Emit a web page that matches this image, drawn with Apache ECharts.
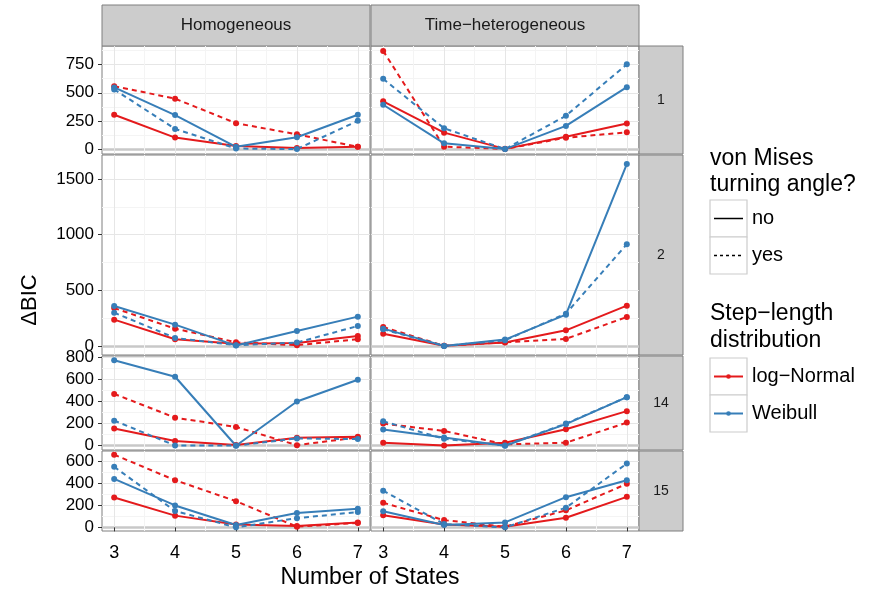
<!DOCTYPE html>
<html><head><meta charset="utf-8">
<script src="https://cdn.jsdelivr.net/npm/echarts@6/dist/echarts.min.js"></script>
<style>html,body{margin:0;padding:0;background:#fff}#c{width:875px;height:592px}</style>
</head><body><div id="c"></div>
<script>
// ---------- data ----------
const states = [3, 4, 5, 6, 7];
const colNames = ['Homogeneous', 'Time\u2212heterogeneous'];
const rowNames = ['1', '2', '14', '15'];
const xTicks = [3, 4, 5, 6, 7];
const xMinor = [3.5, 4.5, 5.5, 6.5];
const yTicksR1 = [0, 250, 500, 750];
const yMinorR1 = [125, 375, 625, 875];
const yTicksR2 = [0, 500, 1000, 1500];
const yMinorR2 = [250, 750, 1250];
const yTicksR3 = [0, 200, 400, 600, 800];
const yMinorR3 = [100, 300, 500, 700];
const yTicksR4 = [0, 200, 400, 600];
const yMinorR4 = [100, 300, 500];

// row "1"
const hom1_lnNo  = [305, 102, 27, 10, 21];
const hom1_lnYes = [559, 448, 230, 131, 20];
const hom1_wbNo  = [548, 302, 20, 105, 305];
const hom1_wbYes = [530, 179, 5, 0, 251];
const het1_lnNo  = [424, 146, 2, 110, 227];
const het1_lnYes = [872, 21, 1, 101, 149];
const het1_wbNo  = [394, 51, 0, 206, 550];
const het1_wbYes = [624, 185, 0, 296, 753];
// row "2"
const hom2_lnNo  = [236, 60, 20, 27, 90];
const hom2_lnYes = [340, 155, 33, 6, 60];
const hom2_wbNo  = [358, 191, 3, 134, 263];
const hom2_wbYes = [299, 72, 6, 30, 179];
const het2_lnNo  = [110, 2, 30, 140, 362];
const het2_lnYes = [170, 1, 33, 63, 260];
const het2_wbNo  = [155, 0, 57, 281, 1634];
const het2_wbYes = [149, 0, 50, 290, 914];
// row "14"
const hom14_lnNo  = [155, 42, 6, 72, 82];
const hom14_lnYes = [469, 254, 170, 5, 75];
const hom14_wbNo  = [773, 624, 0, 400, 597];
const hom14_wbYes = [227, 3, 1, 66, 60];
const het14_lnNo  = [27, 3, 27, 149, 313];
const het14_lnYes = [200, 134, 12, 27, 209];
const het14_wbNo  = [146, 75, 0, 195, 439];
const het14_wbYes = [221, 63, 2, 200, 439];
// row "15"
const hom15_lnNo  = [272, 107, 27, 12, 45];
const hom15_lnYes = [663, 430, 239, 6, 40];
const hom15_wbNo  = [442, 200, 21, 131, 170];
const hom15_wbYes = [552, 149, 0, 84, 140];
const het15_lnNo  = [110, 27, 6, 87, 278];
const het15_lnYes = [224, 66, 6, 155, 397];
const het15_wbNo  = [146, 21, 45, 275, 430];
const het15_wbYes = [334, 30, 0, 179, 582];

// ---------- assembly ----------
const panels = [
  [[hom1_lnNo, hom1_lnYes, hom1_wbNo, hom1_wbYes], [het1_lnNo, het1_lnYes, het1_wbNo, het1_wbYes]],
  [[hom2_lnNo, hom2_lnYes, hom2_wbNo, hom2_wbYes], [het2_lnNo, het2_lnYes, het2_wbNo, het2_wbYes]],
  [[hom14_lnNo, hom14_lnYes, hom14_wbNo, hom14_wbYes], [het14_lnNo, het14_lnYes, het14_wbNo, het14_wbYes]],
  [[hom15_lnNo, hom15_lnYes, hom15_wbNo, hom15_wbYes], [het15_lnNo, het15_lnYes, het15_wbNo, het15_wbYes]]
];
const rowTicks = [yTicksR1, yTicksR2, yTicksR3, yTicksR4];
const rowMinor = [yMinorR1, yMinorR2, yMinorR3, yMinorR4];

const RED = '#E41A1C', BLUE = '#377EB8';
const seriesStyle = [
  {color: RED, dash: 'solid'}, {color: RED, dash: [5, 4]},
  {color: BLUE, dash: 'solid'}, {color: BLUE, dash: [5, 4]}
];
const FONT = 'Liberation Sans, Arial, sans-serif';

const colLeft = [102, 371], colW = [268, 268];
const rowTop = [46, 155, 356, 451], rowH = [108, 200, 94, 80];

const option = {animation: false, grid: [], xAxis: [], yAxis: [], series: [], graphic: []};

for (let r = 0; r < 4; r++) {
  const all = [].concat(panels[r][0][0], panels[r][0][1], panels[r][0][2], panels[r][0][3],
                        panels[r][1][0], panels[r][1][1], panels[r][1][2], panels[r][1][3]);
  const lo = Math.min(...all), hi = Math.max(...all);
  const yMin = lo - 0.05 * (hi - lo), yMax = hi + 0.05 * (hi - lo);
  for (let c = 0; c < 2; c++) {
    const gi = r * 2 + c;
    option.grid.push({left: colLeft[c], top: rowTop[r], width: colW[c], height: rowH[r],
      show: true, borderColor: '#7f7f7f', borderWidth: 1, backgroundColor: '#fff'});
    const bottom = r === 3, left = c === 0;
    option.xAxis.push({type: 'value', gridIndex: gi, min: 2.8, max: 7.2,
      axisLine: {show: false},
      axisTick: {show: bottom, customValues: xTicks, length: 4, lineStyle: {color: '#333', width: 1}},
      axisLabel: {show: bottom, customValues: xTicks, fontSize: 18, color: '#000', margin: 13, fontFamily: FONT},
      splitLine: {show: true, lineStyle: {color: '#e6e6e6', width: 1}}});
    option.xAxis.push({type: 'value', gridIndex: gi, min: 2.8, max: 7.2,
      axisLine: {show: false},
      axisTick: {show: false, customValues: xMinor},
      axisLabel: {show: false, customValues: xMinor},
      splitLine: {show: true, lineStyle: {color: '#f4f4f4', width: 1}}});
    option.yAxis.push({type: 'value', gridIndex: gi, min: yMin, max: yMax,
      axisLine: {show: false},
      axisTick: {show: left, customValues: rowTicks[r], length: 4, lineStyle: {color: '#333', width: 1}},
      axisLabel: {show: left, customValues: rowTicks[r], fontSize: 17, color: '#000', margin: 8,
        fontFamily: FONT, formatter: v => String(v)},
      splitLine: {show: true, lineStyle: {color: '#e6e6e6', width: 1}}});
    option.yAxis.push({type: 'value', gridIndex: gi, min: yMin, max: yMax,
      axisLine: {show: false},
      axisTick: {show: false, customValues: rowMinor[r]},
      axisLabel: {show: false, customValues: rowMinor[r]},
      splitLine: {show: true, lineStyle: {color: '#f4f4f4', width: 1}}});
    option.yAxis.push({type: 'value', gridIndex: gi, min: yMin, max: yMax,
      axisLine: {show: false},
      axisTick: {show: false, customValues: [0]},
      axisLabel: {show: false, customValues: [0]},
      splitLine: {show: true, lineStyle: {color: '#c8c8c8', width: 2.5}}});
    for (let s = 0; s < 4; s++) {
      const arr = panels[r][c][s];
      option.series.push({type: 'line', xAxisIndex: gi * 2, yAxisIndex: gi * 3,
        data: states.map((st, i) => [st, arr[i]]),
        symbol: 'circle', symbolSize: 6, showSymbol: true,
        itemStyle: {color: seriesStyle[s].color},
        lineStyle: {color: seriesStyle[s].color, width: 2, type: seriesStyle[s].dash},
        emphasis: {disabled: true}, silent: true, z: 3});
    }
  }
}

// strips
for (let c = 0; c < 2; c++) {
  option.graphic.push({type: 'rect', shape: {x: colLeft[c], y: 5, width: colW[c], height: 41},
    style: {fill: '#cccccc', stroke: '#7f7f7f', lineWidth: 1}, silent: true});
  option.graphic.push({type: 'text', x: colLeft[c] + colW[c] / 2, y: 25.5,
    style: {text: colNames[c], font: '17px ' + FONT, fill: '#1a1a1a', align: 'center', verticalAlign: 'middle'}, silent: true});
}
for (let r = 0; r < 4; r++) {
  option.graphic.push({type: 'rect', shape: {x: 639, y: rowTop[r], width: 44, height: rowH[r]},
    style: {fill: '#cccccc', stroke: '#7f7f7f', lineWidth: 1}, silent: true});
  option.graphic.push({type: 'text', x: 661, y: rowTop[r] + rowH[r] / 2,
    style: {text: rowNames[r], font: '14px ' + FONT, fill: '#1a1a1a', align: 'center', verticalAlign: 'middle'}, silent: true});
}
// axis titles
option.graphic.push({type: 'text', x: 370, y: 578,
  style: {text: 'Number of States', font: '23px ' + FONT, fill: '#000', align: 'center', verticalAlign: 'middle'}, silent: true});
option.graphic.push({type: 'text', x: 30, y: 300, rotation: Math.PI / 2,
  style: {text: '\u0394BIC', font: '22px ' + FONT, fill: '#000', align: 'center', verticalAlign: 'middle'}, silent: true});

// legends
const legTitle1 = 'von Mises\nturning angle?';
const legTitle2 = 'Step\u2212length\ndistribution';
const legLab1 = ['no', 'yes'];
const legLab2 = ['log\u2212Normal', 'Weibull'];
option.graphic.push({type: 'text', x: 710, y: 146,
  style: {text: legTitle1, font: '23px ' + FONT, lineHeight: 26, fill: '#000', align: 'left', verticalAlign: 'top'}, silent: true});
option.graphic.push({type: 'text', x: 710, y: 300,
  style: {text: legTitle2, font: '23px ' + FONT, lineHeight: 27, fill: '#000', align: 'left', verticalAlign: 'top'}, silent: true});
const keyTop1 = 200, keyTop2 = 358, keyH = 37;
for (let i = 0; i < 2; i++) {
  const y1 = keyTop1 + i * keyH;
  option.graphic.push({type: 'rect', shape: {x: 710, y: y1, width: 37, height: keyH},
    style: {fill: '#fff', stroke: '#cccccc', lineWidth: 1.2}, silent: true});
  option.graphic.push({type: 'line', shape: {x1: 714, y1: y1 + keyH / 2, x2: 743, y2: y1 + keyH / 2},
    style: {stroke: '#000', lineWidth: 1.5, lineDash: i === 0 ? null : [3, 3]}, silent: true});
  option.graphic.push({type: 'text', x: 752, y: y1 + keyH / 2,
    style: {text: legLab1[i], font: '20px ' + FONT, fill: '#000', align: 'left', verticalAlign: 'middle'}, silent: true});
  const y2 = keyTop2 + i * keyH;
  const col = i === 0 ? RED : BLUE;
  option.graphic.push({type: 'rect', shape: {x: 710, y: y2, width: 37, height: keyH},
    style: {fill: '#fff', stroke: '#cccccc', lineWidth: 1.2}, silent: true});
  option.graphic.push({type: 'line', shape: {x1: 714, y1: y2 + keyH / 2, x2: 743, y2: y2 + keyH / 2},
    style: {stroke: col, lineWidth: 2}, silent: true});
  option.graphic.push({type: 'circle', shape: {cx: 728.5, cy: y2 + keyH / 2, r: 2.3},
    style: {fill: col}, silent: true});
  option.graphic.push({type: 'text', x: 752, y: y2 + keyH / 2,
    style: {text: legLab2[i], font: '20px ' + FONT, fill: '#000', align: 'left', verticalAlign: 'middle'}, silent: true});
}

const chart = echarts.init(document.getElementById('c'), null, {renderer: 'canvas'});
chart.setOption(option);
</script></body></html>
